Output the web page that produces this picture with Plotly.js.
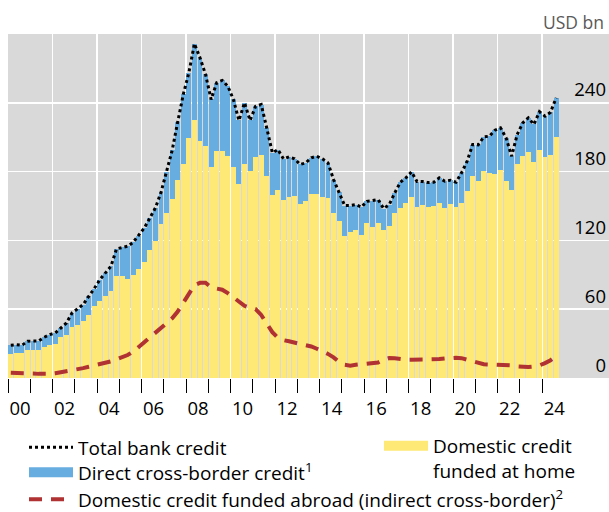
<!DOCTYPE html>
<html><head><meta charset="utf-8">
<script src="https://cdn.plot.ly/plotly-3.0.1.min.js"></script>
<style>html,body{margin:0;padding:0;background:#fff}#chart{width:609px;height:512px}</style>
</head><body><div id="chart"></div>
<script>
// Quarterly data, 2000Q1 .. 2024Q3, USD bn
const firstYear = 2000;
const domesticHome = [
  21.2, 21.8, 21.8, 24.7, 24.2, 24.7, 27.3, 29.1, 29.9, 36.0,
  37.8, 44.2, 46.5, 50.0, 55.2, 62.5, 67.5, 71.2, 75.6, 88.7,
  88.7, 86.7, 90.2, 95.4, 101.2, 111.4, 119.2, 134.7, 144.0, 156.5,
  172.3, 186.2, 209.5, 224.6, 207.1, 202.7, 183.8, 197.8, 198.4, 194.0,
  184.4, 169.6, 186.2, 180.9, 193.1, 194.9, 176.6, 160.0, 164.3, 155.6,
  158.0, 159.1, 152.1, 154.7, 160.8, 160.8, 158.2, 157.4, 144.0, 137.3,
  123.6, 127.7, 129.4, 125.0, 135.3, 131.8, 135.3, 129.4, 132.9, 144.0,
  148.4, 152.7, 158.0, 149.2, 151.2, 149.2, 150.4, 152.7, 148.4, 152.1,
  148.9, 152.7, 163.5, 176.6, 171.6, 180.3, 178.9, 178.3, 181.8, 171.6,
  164.3, 186.2, 194.0, 196.9, 188.2, 199.2, 192.5, 194.9, 210.0
];
const directCrossBorder = [
  7.3, 7.3, 6.7, 7.3, 8.1, 7.6, 8.2, 8.7, 9.4, 7.6,
  10.2, 12.5, 14.0, 14.0, 16.0, 15.4, 18.3, 20.4, 21.8, 23.9,
  25.3, 28.2, 28.2, 28.8, 29.7, 28.2, 29.2, 27.3, 35.4, 42.0,
  51.1, 61.1, 56.7, 66.9, 72.2, 62.0, 59.1, 59.7, 61.1, 60.5,
  58.5, 55.0, 53.8, 43.7, 43.9, 43.6, 41.4, 36.4, 34.9, 35.5,
  34.9, 32.0, 34.1, 32.9, 31.2, 32.6, 32.9, 30.2, 29.1, 24.7,
  26.8, 22.7, 21.8, 24.0, 18.8, 22.9, 20.3, 18.4, 18.3, 17.4,
  22.3, 21.8, 21.8, 22.1, 20.1, 21.2, 20.3, 21.8, 23.2, 20.4,
  21.8, 26.2, 25.5, 27.0, 31.7, 30.0, 32.0, 37.8, 36.4, 37.9,
  29.1, 26.1, 28.5, 30.0, 32.9, 33.0, 35.8, 36.9, 34.4
];
const totalCredit = [
  28.5, 29.1, 28.5, 32.0, 32.3, 32.3, 35.5, 37.8, 39.3, 43.6,
  48.0, 56.7, 60.5, 64.0, 71.2, 77.9, 85.8, 91.6, 97.4, 112.6,
  114.0, 114.9, 118.4, 124.2, 130.9, 139.6, 148.4, 162.0, 179.4, 198.5,
  223.4, 247.3, 266.2, 291.5, 279.3, 264.7, 242.9, 257.5, 259.5, 254.5,
  242.9, 224.6, 240.0, 224.6, 237.0, 238.5, 218.0, 196.4, 199.2, 191.1,
  192.9, 191.1, 186.2, 187.6, 192.0, 193.4, 191.1, 187.6, 173.1, 162.0,
  150.4, 150.4, 151.2, 149.0, 154.1, 154.7, 155.6, 147.8, 151.2, 161.4,
  170.7, 174.5, 179.8, 171.3, 171.3, 170.4, 170.7, 174.5, 171.6, 172.5,
  170.7, 178.9, 189.0, 203.6, 203.3, 210.3, 210.9, 216.1, 218.2, 209.5,
  193.4, 212.3, 222.5, 226.9, 221.1, 232.2, 228.3, 231.8, 244.4
];
const fundedAbroad = [
  4.5, 4.5, 4.4, 4.2, 4.0, 3.6, 3.5, 3.6, 4.2, 5.0,
  5.8, 6.5, 7.5, 8.6, 9.8, 10.8, 11.8, 13.0, 14.5, 16.2,
  18.0, 20.0, 23.0, 27.0, 31.0, 35.0, 39.0, 43.0, 47.0, 52.0,
  58.0, 66.0, 74.0, 81.0, 83.0, 83.0, 79.0, 78.0, 77.0, 74.0,
  70.0, 66.0, 63.0, 61.0, 60.0, 55.0, 47.0, 40.0, 35.0, 33.0,
  32.0, 31.0, 30.0, 29.0, 27.5, 25.5, 23.5, 21.0, 18.0, 14.0,
  11.5, 10.8, 11.5, 12.0, 12.3, 12.5, 13.5, 16.0, 17.4, 17.2,
  16.5, 16.0, 16.0, 16.0, 16.0, 16.2, 16.2, 16.5, 17.0, 17.5,
  17.6, 17.3, 16.0, 14.5, 13.0, 12.0, 11.8, 11.8, 11.8, 11.6,
  11.0, 10.2, 9.8, 9.6, 10.0, 11.0, 13.0, 15.5, 19.0
];
const yearTickVals = [2000, 2002, 2004, 2006, 2008, 2010, 2012, 2014, 2016, 2018, 2020, 2022, 2024];
const yearTickText = ['00', '02', '04', '06', '08', '10', '12', '14', '16', '18', '20', '22', '24'];
const yearBoundaries = [2000, 2001, 2002, 2003, 2004, 2005, 2006, 2007, 2008, 2009, 2010, 2011, 2012,
  2013, 2014, 2015, 2016, 2017, 2018, 2019, 2020, 2021, 2022, 2023, 2024];
const yTickVals = [0, 60, 120, 180, 240];

const COLORS = {home: '#FFE976', direct: '#68ADE0', abroad: '#B03232', total: '#000000'};
const NAMES = {
  home: 'Domestic credit<br>funded at home',
  direct: 'Direct cross-border credit<sup>1</sup>',
  abroad: 'Domestic credit funded abroad (indirect cross-border)<sup>2</sup>',
  total: 'Total bank credit'
};

const quarterX = domesticHome.map((_, i) => firstYear + (i + 0.5) / 4);

const FONT = '"Open Sans", "Noto Sans", sans-serif';

const traces = [
  {
    type: 'bar', x: quarterX, y: domesticHome, name: NAMES.home, showlegend: false,
    marker: {color: COLORS.home, line: {width: 0}}, hoverinfo: 'skip'
  },
  {
    type: 'bar', x: quarterX, y: directCrossBorder, name: NAMES.direct, showlegend: false,
    marker: {color: COLORS.direct, line: {width: 0}}, hoverinfo: 'skip'
  },
  {
    type: 'scatter', mode: 'lines', x: quarterX, y: fundedAbroad, name: NAMES.abroad,
    line: {color: COLORS.abroad, width: 4, dash: '13px,9px'}, legend: 'legend4', hoverinfo: 'skip'
  },
  {
    type: 'scatter', mode: 'lines', x: quarterX, y: totalCredit, name: NAMES.total,
    line: {color: COLORS.total, width: 3, dash: 'dot'}, legend: 'legend', hoverinfo: 'skip'
  },
  // legend keys for the stacked bars (wide rectangles, as in the original key)
  {
    type: 'scatter', mode: 'lines', x: [null], y: [null], name: NAMES.direct,
    line: {color: COLORS.direct, width: 15}, legend: 'legend3', hoverinfo: 'skip'
  },
  {
    type: 'scatter', mode: 'lines', x: [null], y: [null], name: NAMES.home,
    line: {color: COLORS.home, width: 15}, legend: 'legend2', hoverinfo: 'skip'
  }
];

function legendAt(xpx, ypx, extra) {
  // plot area: x 8..609 (601 px), y 34..378 (344 px)
  return Object.assign({
    x: (xpx - 8) / 601, y: (378 - ypx) / 344, xanchor: 'left', yanchor: 'middle',
    orientation: 'v', bgcolor: 'rgba(0,0,0,0)', borderwidth: 0,
    font: {size: 19, color: '#000'}, itemwidth: 44
  }, extra || {});
}

const layout = {
  width: 609, height: 512,
  margin: {l: 8, r: 0, t: 34, b: 134, pad: 0, autoexpand: false},
  paper_bgcolor: '#ffffff', plot_bgcolor: '#D9D9D9',
  font: {family: FONT, size: 18, color: '#000'},
  barmode: 'stack', bargap: 0.12,
  showlegend: true,
  xaxis: {
    range: [2000, 2027], tickmode: 'array', tickvals: yearTickVals, ticktext: yearTickText,
    ticks: 'outside', ticklen: 14, tickwidth: 1, tickcolor: '#000',
    ticklabelshift: 12, tickfont: {size: 18.5, color: '#000'},
    showgrid: true, gridcolor: '#ffffff', gridwidth: 1.5, zeroline: false, showline: false,
    minor: {tickmode: 'array', tickvals: yearBoundaries, ticks: 'outside', ticklen: 14, tickwidth: 1, tickcolor: '#000', showgrid: false},
    fixedrange: true
  },
  yaxis: {
    side: 'right', range: [0, 300], tickmode: 'array', tickvals: yTickVals,
    ticklabelposition: 'inside top', ticks: '', tickfont: {size: 18.5, color: '#000'},
    showgrid: true, gridcolor: '#ffffff', gridwidth: 1.5, zeroline: false, showline: false,
    fixedrange: true
  },
  legend: legendAt(24, 447.5),
  legend3: legendAt(24, 472.5),
  legend4: legendAt(24, 499.5),
  legend2: legendAt(379, 458.5, {valign: 'top'}),
  annotations: [{
    text: 'USD bn', xref: 'paper', yref: 'paper', x: 1, y: 1.035, xanchor: 'right', yanchor: 'middle',
    xshift: -3, showarrow: false, font: {size: 17.5, color: '#595959'}
  }]
};

Plotly.newPlot('chart', traces, layout, {staticPlot: true, displayModeBar: false});
</script>
</body></html>
